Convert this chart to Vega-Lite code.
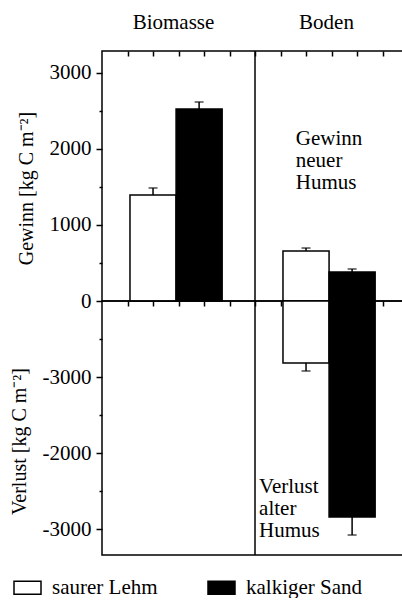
{
  "$schema": "https://vega.github.io/schema/vega-lite/v6.json",
  "padding": {"left": 8, "top": 10, "right": 0, "bottom": 0},
  "spacing": 0,
  "bounds": "flush",
  "config": {
    "font": "Liberation Serif",
    "view": {"stroke": "black", "strokeWidth": 1.5},
    "axis": {
      "labelFont": "Liberation Serif", "titleFont": "Liberation Serif",
      "labelFontSize": 21, "titleFontSize": 20, "titleFontWeight": "normal",
      "labelColor": "black", "titleColor": "black", "tickColor": "black",
      "domainColor": "black", "grid": false, "tickWidth": 1.5
    },
    "legend": {
      "labelFont": "Liberation Serif", "labelFontSize": 21, "labelColor": "black"
    }
  },
  "datasets": {
    "werte": [
      {"Bereich": "Biomasse", "Substrat": "saurer Lehm", "Wert": 1395, "Ende": 1487},
      {"Bereich": "Biomasse", "Substrat": "kalkiger Sand", "Wert": 2526, "Ende": 2618},
      {"Bereich": "Boden", "Substrat": "saurer Lehm", "Wert": 658, "Ende": 697},
      {"Bereich": "Boden", "Substrat": "kalkiger Sand", "Wert": 382, "Ende": 421},
      {"Bereich": "Boden", "Substrat": "saurer Lehm", "Wert": -816, "Ende": -921},
      {"Bereich": "Boden", "Substrat": "kalkiger Sand", "Wert": -2842, "Ende": -3079}
    ]
  },
  "vconcat": [
    {
      "width": 306,
      "height": 250,
      "resolve": {"scale": {"x": "independent"}, "axis": {"x": "independent"}},
      "layer": [
        {
          "data": {"name": "werte"},
          "transform": [{"filter": "datum.Wert > 0"}],
          "encoding": {
            "x": {"field": "Bereich", "type": "nominal",
              "scale": {"domain": ["Biomasse", "Boden"], "paddingInner": 0, "paddingOuter": 0},
              "axis": {"orient": "top", "title": null, "ticks": false, "domain": false, "labelAngle": 0, "labelPadding": 19, "labelOffset": -5}},
            "xOffset": {"field": "Substrat", "type": "nominal",
              "scale": {"domain": ["saurer Lehm", "kalkiger Sand"], "paddingInner": 0, "paddingOuter": 0.66, "align": 0.46}},
            "y": {"field": "Wert", "type": "quantitative",
              "scale": {"domain": [0, 3289], "nice": false, "zero": true}}
          },
          "layer": [
            {
              "mark": {"type": "bar", "stroke": "black", "strokeWidth": 1.5},
              "encoding": {
                "color": {"field": "Substrat", "type": "nominal",
                  "scale": {"domain": ["saurer Lehm", "kalkiger Sand"], "range": ["white", "black"]},
                  "legend": {"orient": "none", "legendX": -89, "legendY": 522, "direction": "horizontal", "title": null,
                    "symbolType": "M-1,-0.48H1V0.48H-1Z", "symbolSize": 729, "symbolStrokeColor": "black", "symbolStrokeWidth": 1.5,
                    "labelOffset": 10, "columnPadding": 47}},
                "y": {"field": "Wert", "type": "quantitative",
                  "axis": {
                    "values": [0, 500, 1000, 1500, 2000, 2500, 3000],
                    "labelExpr": "datum.value % 1000 == 0 ? '' + datum.value : ''",
                    "tickSize": {"condition": {"test": "datum.value % 1000 == 0", "value": 6}, "value": 3},
                    "domain": false, "labelPadding": 5,
                    "title": "Gewinn [kg C m⁻²]", "titleY": 137, "titlePadding": 13
                  }}
              }
            },
            {
              "mark": {"type": "rule", "color": "black", "strokeWidth": 1.5},
              "encoding": {"y2": {"field": "Ende"}}
            },
            {
              "mark": {"type": "tick", "orient": "horizontal", "color": "black", "thickness": 1.5, "size": 9},
              "encoding": {"y": {"field": "Ende", "type": "quantitative"}}
            }
          ]
        },
        {
          "data": {"values": [{"Notiz": "Gewinn\nneuer\nHumus"}]},
          "encoding": {
            "x": {"datum": 6, "type": "quantitative", "scale": {"domain": [0, 12], "nice": false},
              "axis": {"orient": "top", "values": [1, 2, 3, 4, 5, 6, 7, 8, 9, 10, 11], "labels": false, "tickSize": -5, "domain": false, "title": null}}
          },
          "layer": [
            {"mark": {"type": "rule", "color": "black", "strokeWidth": 1.5}, "encoding": {}},
            {
              "mark": {"type": "text", "align": "left", "baseline": "alphabetic", "fontSize": 21, "lineHeight": 22, "lineBreak": "\n", "color": "black", "font": "Liberation Serif"},
              "encoding": {
                "x": {"datum": 7.6, "type": "quantitative"},
                "y": {"datum": 2053, "type": "quantitative"},
                "text": {"field": "Notiz"}
              }
            }
          ]
        }
      ]
    },
    {
      "width": 306,
      "height": 254,
      "resolve": {"scale": {"x": "independent"}, "axis": {"x": "independent"}},
      "layer": [
        {
          "data": {"name": "werte"},
          "transform": [{"filter": "datum.Wert < 0"}],
          "encoding": {
            "x": {"field": "Bereich", "type": "nominal",
              "scale": {"domain": ["Biomasse", "Boden"], "paddingInner": 0, "paddingOuter": 0},
              "axis": null},
            "xOffset": {"field": "Substrat", "type": "nominal",
              "scale": {"domain": ["saurer Lehm", "kalkiger Sand"], "paddingInner": 0, "paddingOuter": 0.66, "align": 0.46}},
            "y": {"field": "Wert", "type": "quantitative",
              "scale": {"domain": [-3342, 0], "nice": false, "zero": true}}
          },
          "layer": [
            {
              "mark": {"type": "bar", "stroke": "black", "strokeWidth": 1.5},
              "encoding": {
                "color": {"field": "Substrat", "type": "nominal",
                  "scale": {"domain": ["saurer Lehm", "kalkiger Sand"], "range": ["white", "black"]}},
                "y": {"field": "Wert", "type": "quantitative",
                  "axis": {
                    "values": [-3000, -2500, -2000, -1500, -1000, -500],
                    "labelExpr": "datum.value == -1000 ? '-3000' : (datum.value % 1000 == 0 ? '' + datum.value : '')",
                    "tickSize": {"condition": {"test": "datum.value % 1000 == 0", "value": 6}, "value": 3},
                    "domain": false, "labelPadding": 5,
                    "title": "Verlust [kg C m⁻²]", "titleY": 140, "titlePadding": 13
                  }}
              }
            },
            {
              "mark": {"type": "rule", "color": "black", "strokeWidth": 1.5},
              "encoding": {"y2": {"field": "Ende"}}
            },
            {
              "mark": {"type": "tick", "orient": "horizontal", "color": "black", "thickness": 1.5, "size": 9},
              "encoding": {"y": {"field": "Ende", "type": "quantitative"}}
            }
          ]
        },
        {
          "data": {"values": [{"Notiz": "Verlust\nalter\nHumus"}]},
          "encoding": {
            "x": {"datum": 6, "type": "quantitative", "scale": {"domain": [0, 12], "nice": false},
              "axis": {"orient": "top", "values": [1, 2, 3, 4, 5, 6, 7, 8, 9, 10, 11], "labels": false, "tickSize": -5, "domain": false, "title": null}}
          },
          "layer": [
            {"mark": {"type": "rule", "color": "black", "strokeWidth": 1.5}, "encoding": {}},
            {
              "mark": {"type": "text", "align": "left", "baseline": "alphabetic", "fontSize": 21, "lineHeight": 22, "lineBreak": "\n", "color": "black", "font": "Liberation Serif"},
              "encoding": {
                "x": {"datum": 6.16, "type": "quantitative"},
                "y": {"datum": -2526, "type": "quantitative"},
                "text": {"field": "Notiz"}
              }
            }
          ]
        }
      ]
    }
  ]
}
